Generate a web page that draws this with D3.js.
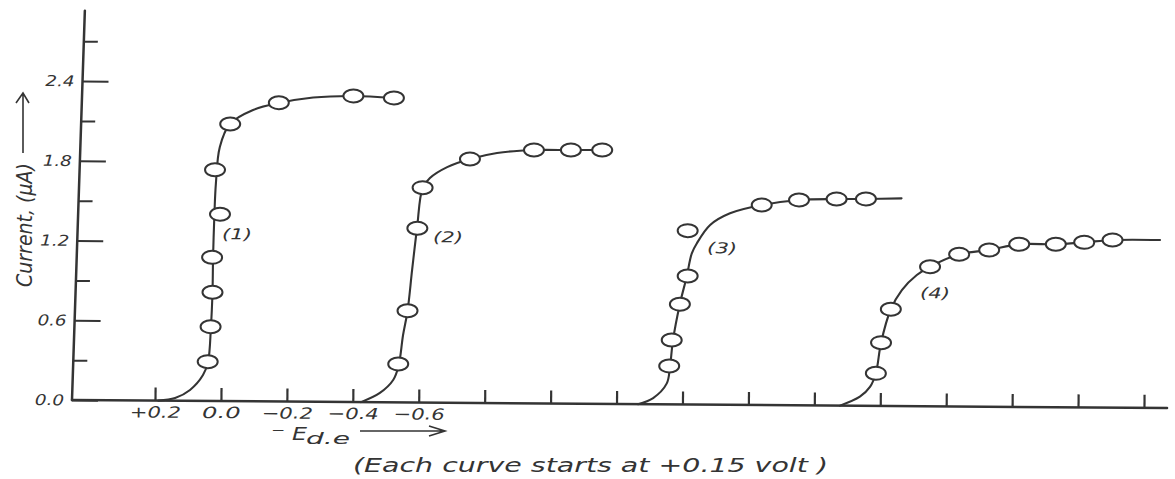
<!DOCTYPE html>
<html><head><meta charset="utf-8">
<script src="https://cdn.jsdelivr.net/npm/d3@7"></script>
<style>body{margin:0;background:#fff}svg{display:block}</style>
</head><body>
<svg id="c" width="1175" height="479"></svg>
<script>
// ---- data (potential -E in volts on the drawn axis, current in microamps) ----
const xTickValues = [0.2, 0.0, -0.2, -0.4, -0.6, -0.8, -1.0, -1.2, -1.4, -1.6, -1.8, -2.0, -2.2, -2.4, -2.6, -2.8];
const xTickLabels = ["+0.2", "0.0", "\u22120.2", "\u22120.4", "\u22120.6"];
const yMajorTicks = [0, 0.6, 1.2, 1.8, 2.4];
const yMinorTicks = [0.3, 0.9, 1.5, 2.1, 2.7];
const yTickLabels = ["0.0", "0.6", "1.2", "1.8", "2.4"];
const curveNames = ["(1)", "(2)", "(3)", "(4)"];
const labelE = [-0.045, -0.685, -1.517, -2.164];
const labelI = [1.258, 1.247, 1.180, 0.853];

const curve1PointE = [0.041, 0.033, 0.028, 0.030, 0.007, 0.023, -0.022, -0.169, -0.395, -0.518];
const curve1PointI = [0.296, 0.559, 0.818, 1.081, 1.406, 1.740, 2.085, 2.248, 2.303, 2.290];
const curve1LineE = [0.19, 0.139, 0.094, 0.055, 0.040, 0.032, 0.028, 0.027, 0.024, 0.020, 0.009, -0.021, -0.091, -0.170, -0.273, -0.394, -0.518];
const curve1LineI = [0, 0.021, 0.082, 0.195, 0.293, 0.557, 0.820, 1.083, 1.400, 1.641, 1.912, 2.085, 2.192, 2.246, 2.289, 2.303, 2.290];

const curve2PointE = [-0.537, -0.564, -0.592, -0.607, -0.750, -0.944, -1.056, -1.151];
const curve2PointI = [0.289, 0.690, 1.311, 1.617, 1.835, 1.906, 1.908, 1.910];
const curve2LineE = [-0.425, -0.482, -0.522, -0.538, -0.551, -0.564, -0.577, -0.591, -0.607, -0.629, -0.681, -0.750, -0.832, -0.944, -1.056, -1.151];
const curve2LineI = [0, 0.070, 0.168, 0.274, 0.507, 0.688, 0.997, 1.313, 1.614, 1.690, 1.773, 1.835, 1.882, 1.906, 1.908, 1.910];

const curve3PointE = [-1.359, -1.366, -1.390, -1.413, -1.412, -1.636, -1.749, -1.863, -1.952];
const curve3PointI = [0.289, 0.484, 0.754, 0.967, 1.308, 1.505, 1.545, 1.554, 1.556];
const curve3LineE = [-1.265, -1.311, -1.352, -1.361, -1.370, -1.390, -1.410, -1.425, -1.440, -1.480, -1.540, -1.636, -1.749, -1.863, -1.952, -2.060];
const curve3LineI = [0, 0.047, 0.158, 0.274, 0.485, 0.756, 0.962, 1.138, 1.213, 1.352, 1.441, 1.505, 1.545, 1.554, 1.556, 1.563];

const curve4PointE = [-1.986, -2.001, -2.030, -2.148, -2.236, -2.327, -2.418, -2.529, -2.615, -2.701];
const curve4PointI = [0.245, 0.476, 0.728, 1.050, 1.145, 1.179, 1.224, 1.226, 1.242, 1.261];
const curve4LineE = [-1.878, -1.938, -1.969, -1.986, -2.001, -2.030, -2.063, -2.108, -2.148, -2.236, -2.327, -2.418, -2.529, -2.615, -2.701, -2.845];
const curve4LineI = [0, 0.068, 0.144, 0.245, 0.476, 0.728, 0.873, 0.987, 1.050, 1.145, 1.179, 1.224, 1.226, 1.242, 1.261, 1.264];

const xAxisEnd = -2.87;
const yAxisEnd = 2.93;

// ---- drawing ----
const ink = "#343434";
const font = "'DejaVu Sans', sans-serif";
const svg = d3.select("#c");
svg.append("rect").attr("width", 1175).attr("height", 479).attr("fill", "#fff");

const x = d3.scaleLinear().domain([0.2, -2.8]).range([83, 1072]);
const y = d3.scaleLinear().domain([0, 2.4]).range([0, -319]);

const plot = svg.append("g").attr("transform", "translate(72,400) rotate(0.42)");

// x axis
plot.append("line").attr("x1", 0).attr("x2", x(xAxisEnd)).attr("y1", 0).attr("y2", 0)
  .attr("stroke", ink).attr("stroke-width", 2.5).attr("stroke-linecap", "round");
const gx = plot.append("g").call(
  d3.axisBottom(x).tickValues(xTickValues).tickSize(-13).tickPadding(6)
    .tickFormat((d, i) => xTickLabels[i] || ""));
gx.select(".domain").remove();
gx.selectAll(".tick line").attr("stroke", ink).attr("stroke-width", 2.2);
gx.selectAll(".tick text").attr("fill", ink).attr("font-family", font)
  .attr("font-style", "italic").attr("font-size", 15.5)
  .each(function (d, i) {
    const t = xTickLabels[i];
    if (t) d3.select(this).attr("textLength", t.length * 12.8).attr("lengthAdjust", "spacingAndGlyphs");
  });

// y axis (hand-drawn slant)
const gy = plot.append("g").attr("transform", "skewX(-1.47)");
gy.append("line").attr("x1", 0).attr("x2", 0).attr("y1", 0).attr("y2", y(yAxisEnd))
  .attr("stroke", ink).attr("stroke-width", 2.5).attr("stroke-linecap", "round");
const gyMajor = gy.append("g").call(
  d3.axisLeft(y).tickValues(yMajorTicks).tickSize(-26).tickPadding(8)
    .tickFormat((d, i) => yTickLabels[i]));
const gyMinor = gy.append("g").call(
  d3.axisLeft(y).tickValues(yMinorTicks).tickSize(-14).tickFormat(() => ""));
[gyMajor, gyMinor].forEach(g => {
  g.select(".domain").remove();
  g.selectAll(".tick line").attr("stroke", ink).attr("stroke-width", 2);
});
gyMajor.selectAll(".tick text").attr("fill", ink).attr("font-family", font)
  .attr("font-style", "italic").attr("font-size", 15)
  .attr("textLength", 29).attr("lengthAdjust", "spacingAndGlyphs");

// curves
const curves = [
  { lineE: curve1LineE, lineI: curve1LineI, ptE: curve1PointE, ptI: curve1PointI },
  { lineE: curve2LineE, lineI: curve2LineI, ptE: curve2PointE, ptI: curve2PointI },
  { lineE: curve3LineE, lineI: curve3LineI, ptE: curve3PointE, ptI: curve3PointI },
  { lineE: curve4LineE, lineI: curve4LineI, ptE: curve4PointE, ptI: curve4PointI }
];
const line = d3.line().x(d => x(d[0])).y(d => y(d[1])).curve(d3.curveCatmullRom.alpha(0.5));

curves.forEach(c => {
  plot.append("path").datum(c.lineE.map((e, i) => [e, c.lineI[i]]))
    .attr("d", line).attr("fill", "none").attr("stroke", ink).attr("stroke-width", 2.1)
    .attr("stroke-linecap", "round").attr("stroke-linejoin", "round");
});
curves.forEach(c => {
  plot.append("g").selectAll("ellipse").data(c.ptE.map((e, i) => [e, c.ptI[i]]))
    .join("ellipse").attr("cx", d => x(d[0])).attr("cy", d => y(d[1]))
    .attr("rx", 10).attr("ry", 6.5).attr("fill", "#fff").attr("stroke", ink).attr("stroke-width", 2);
});
plot.append("g").selectAll("text").data(curveNames).join("text")
  .attr("x", (d, i) => x(labelE[i])).attr("y", (d, i) => y(labelI[i])).attr("dy", "0.35em")
  .attr("text-anchor", "middle").attr("font-family", font).attr("font-style", "italic")
  .attr("font-size", 15).attr("fill", ink)
  .attr("textLength", 30).attr("lengthAdjust", "spacingAndGlyphs").text(d => d);

// y axis title with arrow
svg.append("text").attr("transform", "translate(32,225) rotate(-90)")
  .attr("text-anchor", "middle").attr("font-family", font).attr("font-style", "italic")
  .attr("font-size", 22).attr("fill", ink)
  .attr("textLength", 124).attr("lengthAdjust", "spacingAndGlyphs")
  .text("Current, (\u03bcA)");
svg.append("path").attr("d", "M23,153 L23,93 M16,103 L23,93 L29,103")
  .attr("fill", "none").attr("stroke", ink).attr("stroke-width", 1.6);

// x axis title with arrow
const xt = svg.append("g").attr("font-family", font).attr("font-style", "italic").attr("fill", ink);
xt.append("text").attr("x", 271).attr("y", 434).attr("font-size", 12)
  .attr("textLength", 14).attr("lengthAdjust", "spacingAndGlyphs").text("\u2212");
xt.append("text").attr("x", 292).attr("y", 440).attr("font-size", 17)
  .attr("textLength", 15).attr("lengthAdjust", "spacingAndGlyphs").text("E");
xt.append("text").attr("x", 306).attr("y", 444).attr("font-size", 16)
  .attr("textLength", 44).attr("lengthAdjust", "spacingAndGlyphs").text("d.e");
svg.append("path").attr("d", "M360,431 L445,431 M429,426 L445,431 L429,436")
  .attr("fill", "none").attr("stroke", ink).attr("stroke-width", 1.6);

// note under the chart
svg.append("text").attr("x", 353).attr("y", 472).attr("font-family", font)
  .attr("font-style", "italic").attr("font-size", 19).attr("fill", ink)
  .attr("textLength", 475).attr("lengthAdjust", "spacingAndGlyphs")
  .text("(Each curve starts at +0.15 volt )");
</script>
</body></html>
